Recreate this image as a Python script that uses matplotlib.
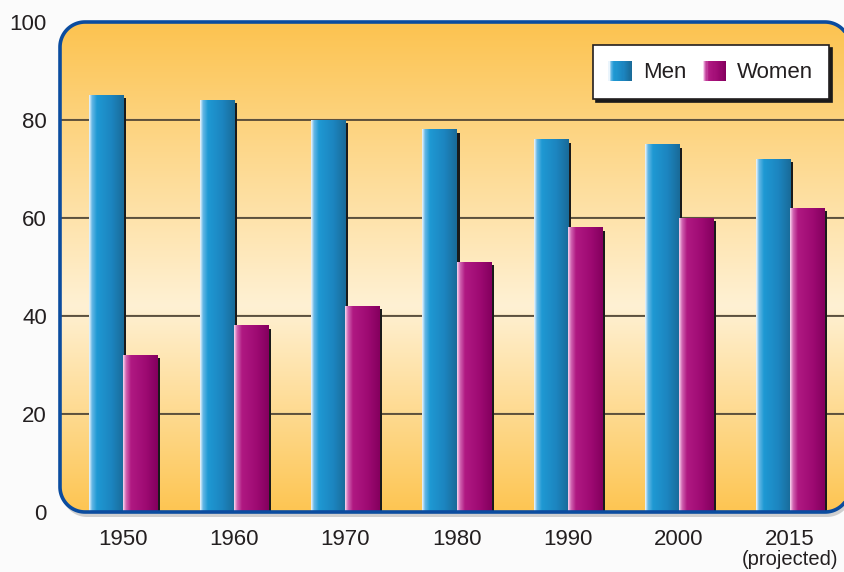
import numpy as np
import matplotlib
matplotlib.use("Agg")
import matplotlib.pyplot as plt
from matplotlib.patches import Rectangle, Polygon
from matplotlib.legend_handler import HandlerBase
from matplotlib.colors import LinearSegmentedColormap
import matplotlib.transforms as mtransforms

plt.rcParams['font.family'] = ['Liberation Sans', 'DejaVu Sans']

# data
years = ['1950', '1960', '1970', '1980', '1990', '2000', '2015']
men = [85, 84, 80, 78, 76, 75, 72]
women = [32, 38, 42, 51, 58, 60, 62]
yticks = [0, 20, 40, 60, 80, 100]

W, H = 844, 572
AW, AH = 790, 490
fig = plt.figure(figsize=(W / 100, H / 100), dpi=100)
fig.patch.set_facecolor('#fbfbfb')
ax = fig.add_axes([60 / W, 1 - 512 / H, AW / W, AH / H])
XL = (-0.567, 6.54)
ax.set_xlim(*XL)
ax.set_ylim(0, 100)
for s in ax.spines.values():
    s.set_visible(False)
ax.set_facecolor('none')


def rounded_rect(rx, ry, n=24):
    # corner arcs of a unit box in axes coords
    pts = []
    for cx, cy, a0 in [(1 - rx, 1 - ry, 0), (rx, 1 - ry, 90), (rx, ry, 180), (1 - rx, ry, 270)]:
        t = np.radians(np.linspace(a0, a0 + 90, n))
        pts.append(np.column_stack([cx + rx * np.cos(t), cy + ry * np.sin(t)]))
    return np.vstack(pts)


outline = rounded_rect(25 / AW, 25 / AH)
shadow_tr = mtransforms.offset_copy(ax.transAxes, fig, x=2, y=-5, units='dots')
ax.add_patch(Polygon(outline, closed=True, transform=shadow_tr, facecolor='#cfcfcf',
                     edgecolor='none', clip_on=False, zorder=0))
bg_fill = Polygon(outline, closed=True, transform=ax.transAxes, facecolor='#fdd890',
                  edgecolor='none', clip_on=False, zorder=0.5)
ax.add_patch(bg_fill)
box = Polygon(outline, closed=True, fill=False, edgecolor='#0b4c9f', linewidth=2.6,
              transform=ax.transAxes, clip_on=False, zorder=6)

bg_cmap = LinearSegmentedColormap.from_list('bg', [
    (0.0, (253 / 255, 197 / 255, 82 / 255)),
    (0.42, (255 / 255, 241 / 255, 212 / 255)),
    (1.0, (252 / 255, 195 / 255, 80 / 255)),
])
grad = np.linspace(0, 1, 256).reshape(-1, 1)
im = ax.imshow(grad, cmap=bg_cmap, origin='lower', extent=[0, 1, 0, 1],
               transform=ax.transAxes, aspect='auto', zorder=1)
im.set_clip_path(bg_fill)
ax.add_patch(box)

# grid lines
hi_tr = mtransforms.offset_copy(ax.get_yaxis_transform(), fig, x=0, y=1.5, units='dots')
for yv in yticks[1:-1]:
    ax.plot([0, 1], [yv, yv], color='#cdb88e', lw=1.0, zorder=1.5, transform=hi_tr)
    ax.axhline(yv, color='#3a3226', lw=1.1, zorder=1.6)

x = np.arange(len(years))
bw = 0.306

# bar shadows
sh_tr = mtransforms.offset_copy(ax.transData, fig, x=3, y=-3, units='dots')
ax.bar(x - bw / 2, men, bw, color='#1a1a1a', transform=sh_tr, zorder=2, align='center')
ax.bar(x + bw / 2, women, bw, color='#1a1a1a', transform=sh_tr, zorder=2, align='center')

men_cols = [(0.0, (0.92, 0.96, 0.99)), (0.08, (0.4, 0.72, 0.9)), (0.22, (0.12, 0.6, 0.83)),
            (0.65, (0.11, 0.52, 0.75)), (1.0, (0.1, 0.42, 0.6))]
women_cols = [(0.0, (0.97, 0.82, 0.93)), (0.08, (0.82, 0.4, 0.7)), (0.22, (0.69, 0.1, 0.51)),
              (0.65, (0.62, 0.04, 0.45)), (1.0, (0.52, 0.0, 0.37))]
men_cmap = LinearSegmentedColormap.from_list('men', men_cols)
women_cmap = LinearSegmentedColormap.from_list('women', women_cols)
hgrad = np.linspace(0, 1, 64).reshape(1, -1)

for i in range(len(years)):
    for off, val, cm in [(-bw, men[i], men_cmap), (0, women[i], women_cmap)]:
        ax.imshow(hgrad, cmap=cm, extent=[x[i] + off, x[i] + off + bw, 0, val],
                  aspect='auto', zorder=3, interpolation='bilinear')
ax.set_xlim(*XL)
ax.set_ylim(0, 100)

# ticks
ax.set_yticks(yticks)
ax.set_yticklabels([str(v) for v in yticks], fontsize=16, color='#231f20')
ax.set_xticks(x)
ax.set_xticklabels(years, fontsize=16, color='#231f20')
ax.tick_params(axis='y', length=0, pad=9.5)
ax.tick_params(axis='x', length=0, pad=12)
ax.text(x[-1], -0.097, '(projected)', transform=ax.get_xaxis_transform(),
        ha='center', va='center', fontsize=14.5, color='#231f20')


# legend with gradient swatches
class GradHandler(HandlerBase):
    def __init__(self, cmap):
        super().__init__()
        self.cmap = cmap

    def create_artists(self, legend, orig_handle, xdescent, ydescent, width, height, fontsize, trans):
        n = 20
        arts = []
        for k in range(n):
            c = self.cmap(k / (n - 1))
            arts.append(Rectangle((-xdescent + k * width / n, -ydescent), width / n * 1.1, height,
                                  facecolor=c, edgecolor='none', transform=trans))
        return arts


h_men = Rectangle((0, 0), 1, 1)
h_women = Rectangle((0, 0), 1, 1)
leg = ax.legend([h_men, h_women], ['Men', 'Women'], ncol=2,
                handler_map={h_men: GradHandler(men_cmap), h_women: GradHandler(women_cmap)},
                loc='upper right', bbox_to_anchor=((829 - 60) / AW, (512 - 45) / AH),
                borderaxespad=0, fontsize=16, frameon=True, fancybox=False,
                shadow={'color': '#1a1a1a', 'alpha': 1},
                handlelength=1.05, handleheight=1.05, handletextpad=0.5,
                columnspacing=0.75, borderpad=0.7)
leg.get_frame().set_edgecolor('#231f20')
leg.get_frame().set_linewidth(1.2)
leg.get_frame().set_facecolor('white')
leg.set_zorder(7)
for t in leg.get_texts():
    t.set_color('#231f20')

fig.savefig('out.png', dpi=100, facecolor=fig.get_facecolor())
